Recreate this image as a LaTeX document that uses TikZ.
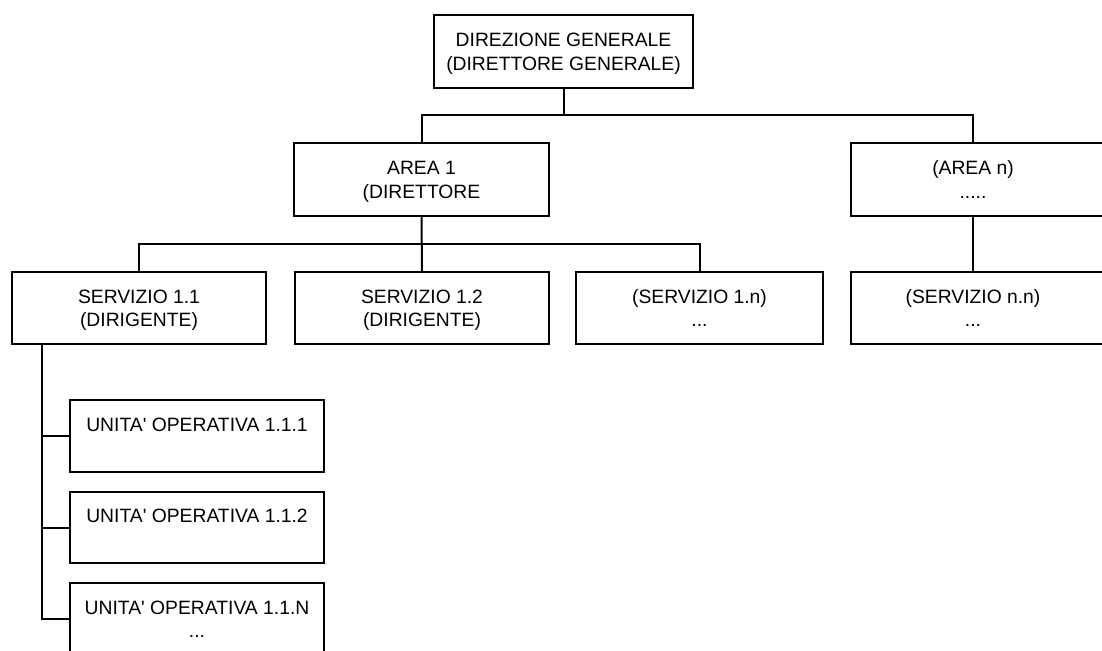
\documentclass[tikz,border=0pt]{standalone}
\usepackage{fontspec}
\setmainfont{Liberation Sans}[Ligatures=TeXOff]
\newcommand{\firstln}{\rule{0pt}{21pt}}
\begin{document}
\begin{tikzpicture}[x=1pt,y=-1pt,
  box/.style={draw=black, line width=2pt, rectangle, inner sep=0pt, align=center,
    font=\fontsize{19.3}{23.5}\selectfont, minimum height=73pt},
  conn/.style={draw=black, line width=2pt}]
\useasboundingbox (0,0) rectangle (1102,650);
\clip (0,0) rectangle (1102,650);
% nodes
\node[box, minimum width=259pt] (dg) at (563.5,51.5) {\firstln DIREZIONE GENERALE\\\strut(DIRETTORE GENERALE)};
\node[box, minimum width=255pt] (a1) at (421.5,179.5) {\firstln AREA 1\\\strut(DIRETTORE};
\node[box, minimum width=255pt] (an) at (978.5,179.5) {\firstln(AREA n)\hspace*{11pt}\\\strut.....\hspace*{11pt}};
\node[box, minimum width=254pt, minimum height=72pt] (s11) at (139,308) {\firstln SERVIZIO 1.1\\\strut(DIRIGENTE)};
\node[box, minimum width=254pt, minimum height=72pt] (s12) at (422,308) {\firstln SERVIZIO 1.2\\\strut(DIRIGENTE)};
\node[box, minimum width=247pt, minimum height=72pt] (s1n) at (699.5,308) {\firstln(SERVIZIO 1.n)\\\strut...};
\node[box, minimum width=255pt, minimum height=72pt] (snn) at (978.5,308) {\firstln(SERVIZIO n.n)\hspace*{11pt}\\\strut...\hspace*{11pt}};
\node[box, minimum width=254pt, minimum height=72pt] (u1) at (197,436) {\firstln UNITA' OPERATIVA 1.1.1\\\strut};
\node[box, minimum width=254pt, minimum height=71pt] (u2) at (197,527.5) {\firstln UNITA' OPERATIVA 1.1.2\\\strut};
\node[box, minimum width=254pt, minimum height=72pt] (u3) at (197,619) {\firstln UNITA' OPERATIVA 1.1.N\\\strut...};
% bus coordinates
\coordinate (b1) at (563.5,115.5);
\coordinate (b2) at (421.5,244);
\coordinate (sp) at (42,344);
% connectors
\draw[conn] (dg.south) -- (b1);
\draw[conn] (a1.north) |- (b1) -| ([xshift=-5.5pt]an.north);
\draw[conn] (a1.south) -- (s12.north);
\draw[conn] (s11.north) |- (b2) -| (s1n.north);
\draw[conn] ([xshift=-5.5pt]an.south) -- ([xshift=-5.5pt]snn.north);
\draw[conn] (sp) |- (u3.west);
\draw[conn] (u1.west) -- (u1.west -| sp);
\draw[conn] (u2.west) -- (u2.west -| sp);
\end{tikzpicture}
\end{document}
